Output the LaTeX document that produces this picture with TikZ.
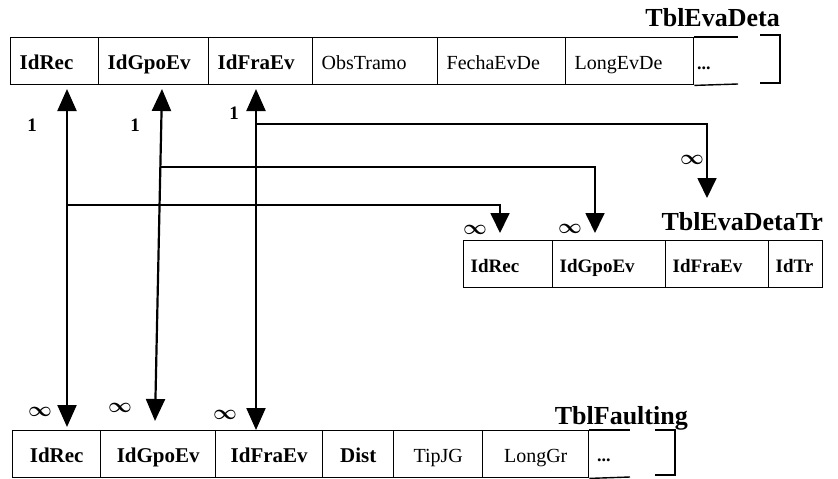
\documentclass[tikz,border=0pt]{standalone}
\usepackage{fontspec}
\setmainfont{Liberation Serif}
\usetikzlibrary{arrows.meta}
\begin{document}
\begin{tikzpicture}[x=1pt,y=-1pt,
  cell/.style={draw, line width=1.4pt, inner ysep=0pt, anchor=north west,
    minimum height=47pt, text height=20pt, text depth=3pt,
    font=\fontsize{20}{22}\selectfont},
  keycell/.style={cell, font=\fontsize{21}{22}\selectfont\bfseries},
  % left-aligned cell text with a fixed padding
  lcell/.style={inner xsep=9pt, align=left, text width=#1},
  midcell/.style={keycell, font=\fontsize{19}{22}\selectfont\bfseries,
    inner xsep=7pt, align=left, text width=#1},
  more/.style={font=\fontsize{18}{20}\selectfont\bfseries, inner sep=0pt, anchor=base west},
  title/.style={font=\fontsize{26}{30}\selectfont\bfseries, inner sep=0pt, anchor=base east},
  edge/.style={draw, line width=1.4pt},
  rel/.style={line width=2.2pt, {Triangle[length=22pt,width=19pt]}-{Triangle[length=22pt,width=19pt]}},
  branch/.style={line width=1.8pt, -{Triangle[length=20pt,width=19pt]}},
  one/.style={font=\fontsize{19}{20}\selectfont\bfseries, inner sep=0pt},
  many/.style={font=\fontsize{22}{22}\selectfont\boldmath, inner sep=0pt}]
\useasboundingbox (0,0) rectangle (838,479);

% ---------- TblEvaDeta ----------
\node[title] (ttop) at (780,27) {TblEvaDeta};
\node[keycell, lcell=70pt]  (a1) at (10,37)  {IdRec};
\node[keycell, lcell=92pt]  (a2) at (98,37)  {IdGpoEv};
\node[keycell, lcell=86pt]  (a3) at (208,37) {IdFraEv};
\node[cell,    lcell=107pt] (a4) at (312,37) {ObsTramo};
\node[cell,    lcell=110pt] (a5) at (437,37) {FechaEvDe};
\node[cell,    lcell=110pt] (a6) at (565,37) {LongEvDe};
\node[more] (a7) at (697,69) {...};
\draw[edge] (a6.north east) -- (738,37);
\draw[edge] (a6.south east) -- (738,84);
\draw[edge] (760,35) -- (780,35) -- (780,83) -- (760,83);

% ---------- TblEvaDetaTr ----------
\node[title] (tmid) at (823,230) {TblEvaDetaTr};
\node[midcell=75pt] (b1) at (463,240) {IdRec};
\node[midcell=99pt] (b2) at (552,240) {IdGpoEv};
\node[midcell=89pt] (b3) at (665,240) {IdFraEv};
\node[midcell=40pt] (b4) at (768,240) {IdTr};

% ---------- TblFaulting ----------
\node[title] (tbot) at (688,424) {TblFaulting};
\node[keycell, minimum width=88pt]  (c1) at (12,430)  {IdRec};
\node[keycell, minimum width=115pt] (c2) at (100,430) {IdGpoEv};
\node[keycell, minimum width=107pt] (c3) at (215,430) {IdFraEv};
\node[keycell, minimum width=71pt]  (c4) at (322,430) {Dist};
\node[cell,    minimum width=89pt]  (c5) at (393,430) {TipJG};
\node[cell,    minimum width=106pt] (c6) at (482,430) {LongGr};
\node[more] (c7) at (597,461) {...};
\draw[edge] (c6.north east) -- (630,430);
\draw[edge] (c6.south east) -- (630,477);
\draw[edge] (655,430) -- (675,430) -- (675,475) -- (655,475);

% ---------- connector end points ----------
\coordinate (p1) at (67,89);   \coordinate (q1) at (67,427);
\coordinate (p2) at (162,89);  \coordinate (q2) at (155,421);
\coordinate (p3) at (256,89);  \coordinate (q3) at (256,430);
\coordinate (r1) at (67,205);  \coordinate (s1) at (500,233);
\coordinate (r2) at (161,167); \coordinate (s2) at (595,233);
\coordinate (r3) at (256,124); \coordinate (s3) at (707,198);

% ---------- relationships ----------
\draw[rel] (p1) -- (q1);
\draw[rel] (p2) -- (q2);
\draw[rel] (p3) -- (q3);
\draw[branch] (r1) -| (s1);
\draw[branch] (r2) -| (s2);
\draw[branch] (r3) -| (s3);

% ---------- cardinalities ----------
\node[one] (n1) at (32,125)  {1};
\node[one] (n2) at (135,125) {1};
\node[one] (n3) at (234,113) {1};
\node[many] (m1) at (692,160) {$\infty$};
\node[many] (m2) at (475,230) {$\infty$};
\node[many] (m3) at (570,229) {$\infty$};
\node[many] (m4) at (40,412)  {$\infty$};
\node[many] (m5) at (120,408) {$\infty$};
\node[many] (m6) at (225,415) {$\infty$};
\end{tikzpicture}
\end{document}
